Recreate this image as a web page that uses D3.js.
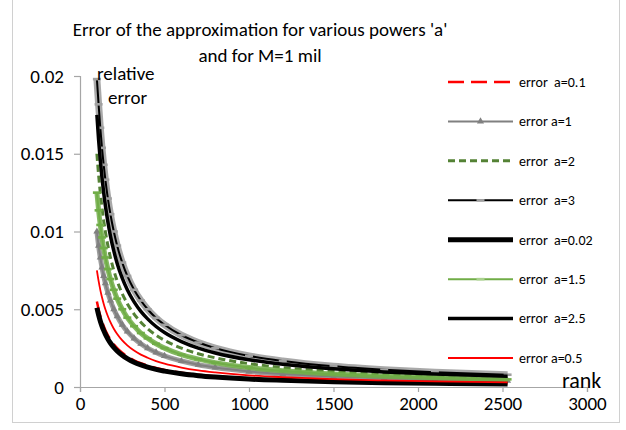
<!DOCTYPE html>
<html><head><meta charset="utf-8">
<script src="https://cdn.jsdelivr.net/npm/d3@7"></script>
<style>
body{margin:0;background:#fff;}
text{font-family:Carlito,Calibri,Lato,sans-serif;fill:#000;white-space:pre;}
</style></head><body>
<svg id="c" width="626" height="430"></svg>
<script>
const ranks = [100,110,120,130,140,150,165,180,200,220,250,280,320,360,400,450,500,600,700,800,1000,1200,1500,1800,2100,2530];
const err_a01  = [0.0055,0.0050,0.00458,0.00423,0.00393,0.00367,0.00333,0.00306,0.00275,0.0025,0.0022,0.00196,0.00172,0.00153,0.00138,0.00122,0.0011,0.00092,0.00079,0.00069,0.00055,0.00046,0.00037,0.00031,0.00026,0.00022];
const err_a1   = [0.01,0.00909,0.00833,0.00769,0.00714,0.00667,0.00606,0.00556,0.005,0.00455,0.004,0.00357,0.00313,0.00278,0.0025,0.00222,0.002,0.00167,0.00143,0.00125,0.001,0.00083,0.00067,0.00056,0.00048,0.0004];
const err_a2   = [0.015,0.01364,0.0125,0.01154,0.01071,0.01,0.00909,0.00833,0.0075,0.00682,0.006,0.00536,0.00469,0.00417,0.00375,0.00333,0.003,0.0025,0.00214,0.00188,0.0015,0.00125,0.001,0.00083,0.00071,0.00059];
const err_a3   = [0.0198,0.01818,0.01667,0.01538,0.01429,0.01333,0.01212,0.01111,0.01,0.00909,0.008,0.00714,0.00625,0.00556,0.005,0.00444,0.004,0.00333,0.00286,0.0025,0.002,0.00167,0.00133,0.00111,0.00095,0.00079];
const err_a002 = [0.0051,0.00464,0.00425,0.00392,0.00364,0.0034,0.00309,0.00283,0.00255,0.00232,0.00204,0.00182,0.00159,0.00142,0.00128,0.00113,0.00102,0.00085,0.00073,0.00064,0.00051,0.00043,0.00034,0.00028,0.00024,0.0002];
const err_a15  = [0.0125,0.01136,0.01042,0.00962,0.00893,0.00833,0.00758,0.00694,0.00625,0.00568,0.005,0.00446,0.00391,0.00347,0.00313,0.00278,0.0025,0.00208,0.00179,0.00156,0.00125,0.00104,0.00083,0.00069,0.0006,0.00049];
const err_a25  = [0.0175,0.01591,0.01458,0.01346,0.0125,0.01167,0.01061,0.00972,0.00875,0.00795,0.007,0.00625,0.00547,0.00486,0.00438,0.00389,0.0035,0.00292,0.0025,0.00219,0.00175,0.00146,0.00117,0.00097,0.00083,0.00069];
const err_a05  = [0.0075,0.00682,0.00625,0.00577,0.00536,0.005,0.00455,0.00417,0.00375,0.00341,0.003,0.00268,0.00234,0.00208,0.00188,0.00167,0.0015,0.00125,0.00107,0.00094,0.00075,0.00063,0.0005,0.00042,0.00036,0.0003];
const seriesNames = ["error  a=0.1","error a=1","error  a=2","error  a=3","error  a=0.02","error  a=1.5","error  a=2.5","error a=0.5"];
const xTicks = [0,500,1000,1500,2000,2500,3000];
const yTicks = [0,0.005,0.01,0.015,0.02];
const yTickLabels = ["0","0.005","0.01","0.015","0.02"];

const styles = [
  {color:"#ff0000", w:2.5, dash:"16,7"},
  {color:"#808080", w:2, marker:"tri", mcolor:"#808080", band:"#8c8c8c", bw:5},
  {color:"#548235", w:3, dash:"7,4"},
  {color:"#000000", w:2, marker:"bar", mcolor:"#a0a0a0", band:"#9a9a9a", bw:7},
  {color:"#000000", w:5},
  {color:"#70ad47", w:2, marker:"bar", mcolor:"#70ad47", band:"#70ad47", bw:5},
  {color:"#000000", w:3.5},
  {color:"#ff0000", w:1.8}
];
const data = [err_a01, err_a1, err_a2, err_a3, err_a002, err_a15, err_a25, err_a05];

const svg = d3.select("#c");
svg.append("rect").attr("x",12.5).attr("y",-5).attr("width",607).attr("height",427.5)
  .attr("fill","none").attr("stroke","#d0d0d0");

const x = d3.scaleLinear().domain([0,3000]).range([80,587]);
const y = d3.scaleLinear().domain([0,0.02]).range([387,76]);

const xa = svg.append("g").attr("transform","translate(0,387)")
  .call(d3.axisBottom(x).tickValues(xTicks).tickSize(5).tickFormat(d3.format("d")));
const ya = svg.append("g").attr("transform","translate(80,0)")
  .call(d3.axisLeft(y).tickValues(yTicks).tickSize(6).tickFormat((d,i)=>yTickLabels[i]));
[xa,ya].forEach(g=>{
  g.select(".domain").attr("stroke","#a6a6a6").attr("stroke-width",1.2);
  g.selectAll(".tick line").attr("stroke","#a6a6a6").attr("stroke-width",1.2);
  g.selectAll("text").style("font-size","19px").attr("fill","#000");
});
xa.selectAll("text").attr("dy","0.9em").attr("y",6);
ya.selectAll("text").attr("x",-16);

const line = d3.line().x((d,i)=>x(ranks[i])).y(d=>y(d)).curve(d3.curveMonotoneX);

data.forEach((vals,k)=>{
  const s = styles[k];
  const g = svg.append("g");
  if (s.band) {
    g.append("path").attr("d",line(vals)).attr("fill","none")
      .attr("stroke",s.band).attr("stroke-width",s.bw).attr("opacity",0.85);
  }
  g.append("path").attr("d",line(vals)).attr("fill","none")
    .attr("stroke",s.color).attr("stroke-width",s.w)
    .attr("stroke-dasharray",s.dash||null);
  if (s.marker==="tri") {
    g.selectAll("path.m").data(vals).enter().append("path").attr("class","m")
      .attr("d",d3.symbol().type(d3.symbolTriangle).size(22))
      .attr("transform",(d,i)=>`translate(${x(ranks[i])},${y(d)})`)
      .attr("fill",s.mcolor);
  } else if (s.marker==="bar") {
    g.selectAll("rect.m").data(vals).enter().append("rect").attr("class","m")
      .attr("x",(d,i)=>x(ranks[i])-4).attr("y",d=>y(d)-1.3)
      .attr("width",8).attr("height",2.6).attr("fill",s.mcolor);
  }
});

const legY = d3.scaleLinear().domain([0,7]).range([82,358]);
seriesNames.forEach((name,k)=>{
  const s = styles[k];
  const yy = legY(k);
  const g = svg.append("g");
  g.append("line").attr("x1",448).attr("x2",513).attr("y1",yy).attr("y2",yy)
    .attr("stroke",s.color).attr("stroke-width",s.w)
    .attr("stroke-dasharray",s.dash||null);
  if (s.marker==="tri") {
    g.append("path").attr("d",d3.symbol().type(d3.symbolTriangle).size(22))
      .attr("transform",`translate(480.5,${yy})`).attr("fill",s.mcolor);
  } else if (s.marker==="bar") {
    g.append("rect").attr("x",476.5).attr("y",yy-1.3).attr("width",8).attr("height",2.6)
      .attr("fill",k===5?"#a9d18e":s.mcolor);
  }
  g.append("text").attr("x",519).attr("y",yy).attr("dy","0.35em")
    .style("font-size","14px").text(name);
});

svg.append("text").attr("x",260).attr("y",36).attr("text-anchor","middle")
  .style("font-size","19px").text("Error of the approximation for various powers 'a'");
svg.append("text").attr("x",260).attr("y",62).attr("text-anchor","middle")
  .style("font-size","19px").text("and for M=1 mil");
svg.append("text").attr("x",97).attr("y",80).style("font-size","19px").text("relative");
svg.append("text").attr("x",108).attr("y",104).style("font-size","19px").text("error");
svg.append("text").attr("x",562).attr("y",388).style("font-size","22px").text("rank");
</script>
</body></html>
